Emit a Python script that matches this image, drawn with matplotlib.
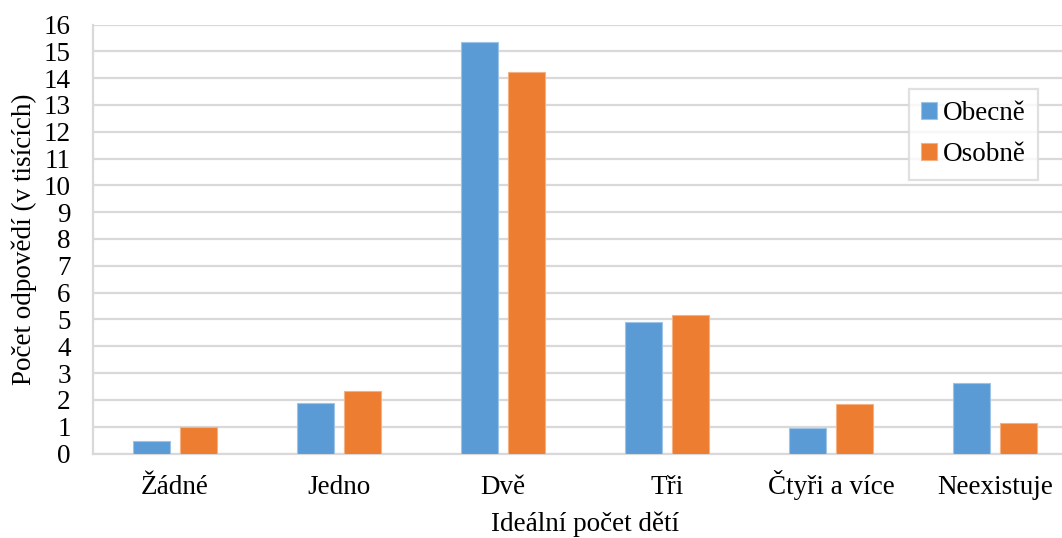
import matplotlib
matplotlib.use("Agg")
import matplotlib.pyplot as plt
import numpy as np

categories = ["Žádné", "Jedno", "Dvě", "Tři", "Čtyři a více", "Neexistuje"]
obecne = [0.47, 1.89, 15.35, 4.91, 0.94, 2.64]
osobne = [0.99, 2.34, 14.23, 5.17, 1.86, 1.12]
series_names = ["Obecně", "Osobně"]
y_ticks = list(range(0, 17))

plt.rcParams["font.family"] = ["Liberation Serif", "DejaVu Serif"]
FS = 19.5

W, H = 1062, 538
fig = plt.figure(figsize=(W / 100, H / 100), dpi=100)
ax = fig.add_axes([93 / W, 1 - 453.5 / H, (1077 - 93) / W, (453.5 - 24.5) / H])

x = np.arange(len(categories))
bw = 0.224
off = 0.142
blue = "#5B9BD5"
orange = "#ED7D31"
b1 = ax.bar(x - off, obecne, bw, color=blue, edgecolor="#9DC3E6", linewidth=0.8,
            label=series_names[0], zorder=3)
b2 = ax.bar(x + off, osobne, bw, color=orange, edgecolor="#F4B183", linewidth=0.8,
            label=series_names[1], zorder=3)

ax.set_xlim(-0.5, len(categories) - 0.5)
ax.set_ylim(0, 16)
ax.set_yticks(y_ticks)
ax.set_xticks(x)
ax.set_xticklabels(categories, fontsize=FS)
for lbl in ax.get_xticklabels():
    lbl.set_verticalalignment("baseline")
ax.tick_params(axis="y", labelsize=FS, length=0, pad=16)
ax.tick_params(axis="x", length=0, pad=29.5)
ax.yaxis.grid(True, color="#D9D9D9", linewidth=1.6, zorder=0)
ax.set_axisbelow(True)
for s in ["top", "right"]:
    ax.spines[s].set_visible(False)
for s in ["left", "bottom"]:
    ax.spines[s].set_color("#D9D9D9")
    ax.spines[s].set_linewidth(1.6)

ax.set_ylabel("Počet odpovědí (v tisících)", fontsize=FS, labelpad=5)
ax.set_xlabel("Ideální počet dětí", fontsize=FS, labelpad=8)

leg = fig.legend(handles=[b1, b2], labels=series_names, fontsize=FS,
                 loc="upper left", bbox_to_anchor=(909 / W, 1 - 89 / H),
                 frameon=True, fancybox=False, edgecolor="#D9D9D9",
                 handlelength=0.6, handleheight=0.6, handletextpad=0.2,
                 labelspacing=0.6, borderpad=0.45, borderaxespad=0)
leg.get_frame().set_linewidth(1.6)

fig.savefig("out.png", dpi=100)
